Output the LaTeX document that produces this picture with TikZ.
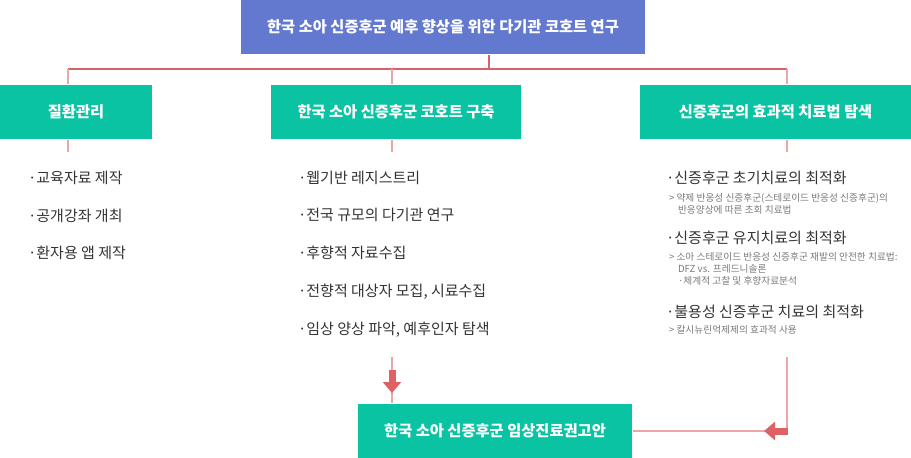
\documentclass[tikz,border=0pt]{standalone}
\usepackage{fontspec}
\setmainfont{Noto Sans CJK KR}
\usepackage{xcolor}
\usepackage{tikz}
\usetikzlibrary{arrows.meta}
\definecolor{rootblue}{HTML}{6279CF}
\definecolor{boxgreen}{HTML}{09C3A2}
\definecolor{linered}{HTML}{D9626A}
\definecolor{linepink}{HTML}{EBA6AA}
\definecolor{arrowred}{HTML}{DE6264}
\definecolor{itemgray}{HTML}{333333}
\definecolor{subgray}{HTML}{7A7A7A}

\begin{document}
\begin{tikzpicture}[x=1pt, y=-1pt, line width=2pt,
    box/.style={fill=boxgreen, text=white, inner sep=0pt, minimum height=54pt,
                font=\fontsize{15.3}{17}\selectfont\bfseries},
    item/.style={anchor=west, text=itemgray, inner sep=0pt, font=\fontsize{15}{17}\selectfont},
    sub/.style={anchor=west, text=subgray, inner sep=0pt, font=\fontsize{9.7}{11}\selectfont},
    fat/.style={arrowred, line width=7pt, -{Triangle[width=18pt,length=11pt]}}]
      \useasboundingbox (0, 0) rectangle (911, 458);

      \node[box, fill=rootblue, minimum width=404pt](Root) at (443, 27) {한국 소아 신증후군 예후 향상을 위한 다기관 코호트 연구};

      \node[box, minimum width=152pt](Box1) at (76, 112) {질환관리};
        \node[item](Item11) at (27, 178) {·교육자료 제작};
        \node[item](Item12) at (27, 216) {·공개강좌 개최};
        \node[item](Item13) at (27, 253) {·환자용 앱 제작};

      \node[box, minimum width=250pt](Box2) at (396, 112) {한국 소아 신증후군 코호트 구축};
        \node[item](Item21) at (297, 178) {·웹기반 레지스트리};
        \node[item](Item22) at (297, 215) {·전국 규모의 다기관 연구};
        \node[item](Item23) at (297, 253) {·후향적 자료수집};
        \node[item](Item24) at (297, 292) {·전향적 대상자 모집, 시료수집};
        \node[item](Item25) at (297, 330) {·임상 양상 파악, 예후인자 탐색};

      \node[box, minimum width=271pt](Box3) at (775.5, 112) {신증후군의 효과적 치료법 탐색};
        \node[item](Head31) at (665, 178) {·신증후군 초기치료의 최적화};
          \node[sub](Sub11) at (668, 198) {> 약제 반응성 신증후군(스테로이드 반응성 신증후군)의};
          \node[sub](Sub12) at (677, 210) {반응양상에 따른 초회 치료법};
        \node[item](Head32) at (665, 238) {·신증후군 유지치료의 최적화};
          \node[sub](Sub21) at (668, 257) {> 소아 스테로이드 반응성 신증후군 재발의 안전한 치료법:};
          \node[sub](Sub22) at (677, 269) {DFZ vs. 프레드니솔론};
          \node[sub](Sub23) at (677, 281) {·체계적 고찰 및 후향자료분석};
        \node[item](Head33) at (665, 312) {·불용성 신증후군 치료의 최적화};
          \node[sub](Sub31) at (668, 330) {> 칼시뉴린억제제의 효과적 사용};

      \node[box, minimum width=274pt](Out) at (495, 431) {한국 소아 신증후군 임상진료권고안};

      \coordinate(J0) at (489, 69);
      \coordinate(J1) at (68, 69);
      \coordinate(J2) at (392, 69);
      \coordinate(J3) at (787, 69);
      \coordinate(A2) at (392, 357);
      \coordinate(A3) at (787, 357);

      \draw[linered] (J0 |- Root.south) -- (J0) (J1) -- (J3);
      \draw[linepink] (J1) -- (J1 |- Box1.north) (J2) -- (J2 |- Box2.north) (J3) -- (J3 |- Box3.north)
            (J1 |- Box1.south) -- ++(0, 12) (J2 |- Box2.south) -- ++(0, 12) (J3 |- Box3.south) -- ++(0, 12)
            (A2) -- (A2 |- Out.north)
            (A3) -- (A3 |- Out.east) -- (Out.east);
      \draw[fat] (A2) ++(0, 13) -- ++(0, 23);
      \draw[fat] (A3 |- Out.east) ++(1, 0) -- ++(-24, 0);
    \end{tikzpicture}
\end{document}
